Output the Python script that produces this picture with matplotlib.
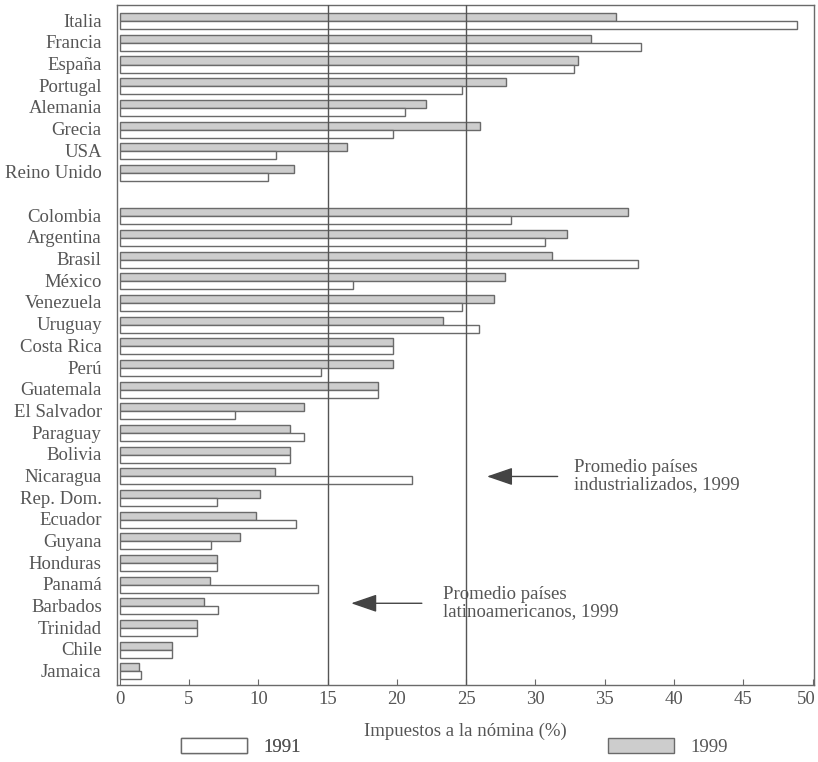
import matplotlib
matplotlib.use("Agg")
import matplotlib.pyplot as plt
import matplotlib.transforms as mtransforms
import numpy as np

industrial = ["Italia", "Francia", "España", "Portugal", "Alemania", "Grecia", "USA", "Reino Unido"]
ind_1999 = [35.8, 34.0, 33.1, 27.9, 22.1, 26.0, 16.4, 12.6]
ind_1991 = [48.9, 37.6, 32.8, 24.7, 20.6, 19.7, 11.3, 10.7]

latin = ["Colombia", "Argentina", "Brasil", "México", "Venezuela", "Uruguay", "Costa Rica",
         "Perú", "Guatemala", "El Salvador", "Paraguay", "Bolivia", "Nicaragua", "Rep. Dom.",
         "Ecuador", "Guyana", "Honduras", "Panamá", "Barbados", "Trinidad", "Chile", "Jamaica"]
lat_1999 = [36.7, 32.3, 31.2, 27.8, 27.0, 23.3, 19.7, 19.7, 18.6, 13.3, 12.3, 12.3, 11.2,
            10.1, 9.8, 8.7, 7.0, 6.5, 6.1, 5.6, 3.8, 1.4]
lat_1991 = [28.2, 30.7, 37.4, 16.8, 24.7, 25.9, 19.7, 14.5, 18.6, 8.3, 13.3, 12.3, 21.1,
            7.0, 12.7, 6.6, 7.0, 14.3, 7.1, 5.6, 3.8, 1.5]

avg_industrial = 25
avg_latin = 15
xticks = [0, 5, 10, 15, 20, 25, 30, 35, 40, 45, 50]

TXT = "#555555"
EDGE = "#6a6a6a"
GRAY = "#cdcdcd"
FS = 13.5
plt.rcParams["font.family"] = ["Liberation Serif", "DejaVu Serif"]

countries = industrial + latin
v99 = ind_1999 + lat_1999
v91 = ind_1991 + lat_1991
pos = np.array(list(range(len(industrial))) + list(range(len(industrial) + 1, len(industrial) + 1 + len(latin))))

fig = plt.figure(figsize=(8.18, 7.62), dpi=100)
ax = fig.add_axes([117 / 818, 1 - 685 / 762, (814 - 117) / 818, (685 - 5) / 762])

h = 0.37
b99 = ax.barh(pos - 0.19, v99, height=h, color=GRAY, edgecolor=EDGE, linewidth=1.0, label="1999", zorder=2)
b91 = ax.barh(pos + 0.18, v91, height=h, color="white", edgecolor=EDGE, linewidth=1.0, label="1991", zorder=2)

ax.axvline(avg_latin, color="#555555", lw=1.0, zorder=3)
ax.axvline(avg_industrial, color="#555555", lw=1.0, zorder=3)

ax.set_xlim(-0.2, 50.1)
ax.set_ylim(30.62, -0.75)
ax.set_xticks(xticks)
ax.set_xticklabels([str(t) for t in xticks])
ax.set_yticks(pos - 0.05)
ax.set_yticklabels(countries)
ax.tick_params(axis="x", direction="in", length=4, color=EDGE, pad=4, labelsize=FS, labelcolor=TXT)
ax.tick_params(axis="y", length=0, pad=11, labelsize=FS, labelcolor=TXT)
for s in ax.spines.values():
    s.set_color(EDGE)
    s.set_linewidth(1.0)

# nudge the last tick label so it stays inside the figure
last = ax.get_xticklabels()[-1]
last.set_transform(last.get_transform() + mtransforms.ScaledTranslation(-6 / 100, 0, fig.dpi_scale_trans))

ax.set_xlabel("Impuestos a la nómina (%)", fontsize=FS, color=TXT, labelpad=11)

arrow = dict(arrowstyle="-|>,head_length=1.6,head_width=0.55", color="#444444", lw=1.0,
             shrinkA=0, shrinkB=0)
ax.annotate("", xy=(26.5, 21.0), xytext=(31.6, 21.0), arrowprops=arrow)
ax.text(32.8, 21.0, "Promedio países\nindustrializados, 1999", fontsize=FS, color=TXT,
        va="center", ha="left", linespacing=1.0)
ax.annotate("", xy=(16.7, 26.85), xytext=(21.8, 26.85), arrowprops=arrow)
ax.text(23.3, 26.85, "Promedio países\nlatinoamericanos, 1999", fontsize=FS, color=TXT,
        va="center", ha="left", linespacing=1.0)

leg1 = fig.legend(handles=[b91], labels=["1991"], loc="center left",
                  bbox_to_anchor=(164 / 818, 1 - 747 / 762), frameon=False, fontsize=FS,
                  handlelength=3.5, handleheight=0.8, handletextpad=0.9, labelcolor=TXT)
leg2 = fig.legend(handles=[b99], labels=["1999"], loc="center left",
                  bbox_to_anchor=(591 / 818, 1 - 747 / 762), frameon=False, fontsize=FS,
                  handlelength=3.5, handleheight=0.8, handletextpad=0.9, labelcolor=TXT)
fig.add_artist(leg1)

fig.savefig("out.png", dpi=100)
